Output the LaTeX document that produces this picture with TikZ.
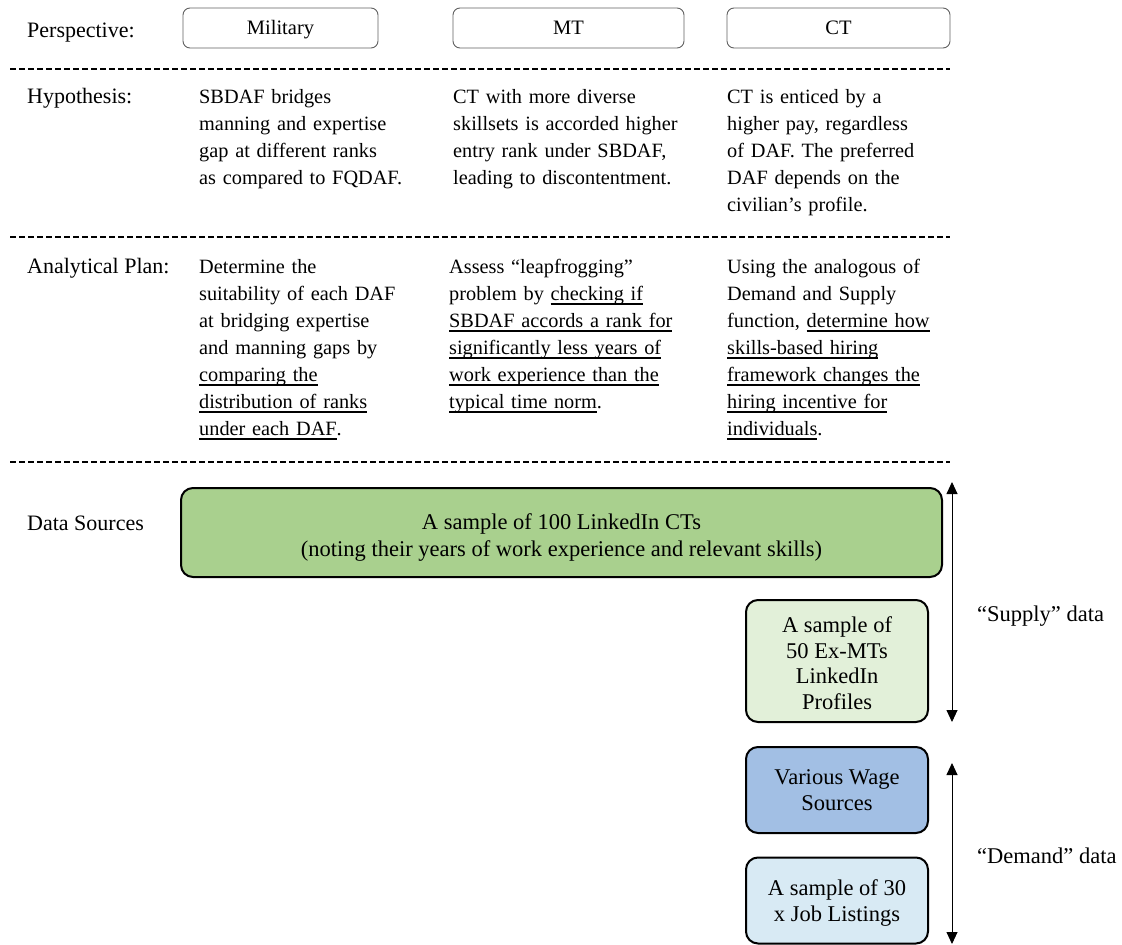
\documentclass[tikz,border=0pt]{standalone}
\usepackage{fontspec}
\setmainfont{Liberation Serif}
\usetikzlibrary{arrows.meta}
\newcommand{\myul}[1]{\leavevmode\setbox0\hbox{#1}\rlap{\rule[-4.5pt]{\wd0}{1.3pt}}\box0}
\newcommand{\fl}[1]{\rule{0pt}{#1pt}}
\newcommand{\lastl}{\rule[-6pt]{0pt}{6pt}}
\definecolor{bigGreen}{HTML}{A9D08E}
\definecolor{lightGreen}{HTML}{E2F0D9}
\definecolor{midBlue}{HTML}{A2BFE4}
\definecolor{lightBlue}{HTML}{D8EAF4}
\definecolor{hdrGray}{HTML}{606060}
\tikzset{
  txt/.style={anchor=base west, inner sep=0pt, text width=#1, align=left, font=\fontsize{20.3}{27}\selectfont},
  lbl/.style={anchor=base west, inner sep=0pt, font=\fontsize{22}{27}\selectfont},
  hdrbox/.style={draw=hdrGray, line width=0.9pt, rounded corners=7pt, minimum height=40pt, inner sep=0pt, text height=13.5pt, text depth=0pt, font=\fontsize{20.5}{27}\selectfont},
  databox/.style={draw=black, line width=2pt, rounded corners=12pt, inner sep=0pt, align=center, font=\fontsize{22.5}{#1}\selectfont},
  sep/.style={line width=1.3pt, dash pattern=on 6pt off 3pt},
  dim/.style={line width=0.9pt, {Triangle[width=11pt,length=12pt]}-{Triangle[width=11pt,length=12pt]}}
}
\begin{document}
\begin{tikzpicture}[x=1pt,y=-1pt]
\useasboundingbox (0,0) rectangle (1122,945);
% header row
\node[lbl] (persp) at (27,37) {Perspective:};
\node[hdrbox, minimum width=195pt] (mil) at (280.5,28) {Military};
\node[hdrbox, minimum width=231pt] (mt) at (568.5,28) {MT};
\node[hdrbox, minimum width=223pt] (ct) at (838.5,28) {CT};
% separators
\draw[sep] (10,69) -- (950,69);
\draw[sep] (10,237) -- (950,237);
\draw[sep] (10,462) -- (950,462);
% hypothesis row
\node[lbl] (hyp) at (27,103.5) {Hypothesis:};
\node[txt=250pt] (hyp1) at (199,103) {SBDAF bridges\\manning and expertise\\gap at different ranks\\as compared to FQDAF.};
\node[txt=270pt] (hyp2) at (453,103) {CT with more diverse\\skillsets is accorded higher\\entry rank under SBDAF,\\leading to discontentment.};
\node[txt=250pt] (hyp3) at (727,103) {CT is enticed by a\\higher pay, regardless\\of DAF. The preferred\\DAF depends on the\\civilian’s profile.};
% analytical plan row
\node[lbl] (ana) at (27,273.5) {Analytical Plan:};
\node[txt=250pt] (ana1) at (199,273) {Determine the\\suitability of each DAF\\at bridging expertise\\and manning gaps by\\\myul{comparing the}\\\myul{distribution of ranks}\\\myul{under each DAF}.};
\node[txt=270pt] (ana2) at (449,273) {Assess “leapfrogging”\\problem by \myul{checking if}\\\myul{SBDAF accords a rank for}\\\myul{significantly less years of}\\\myul{work experience than the}\\\myul{typical time norm}.};
\node[txt=250pt] (ana3) at (727,273) {Using the analogous of\\Demand and Supply\\function, \myul{determine how}\\\myul{skills-based hiring}\\\myul{framework changes the}\\\myul{hiring incentive for}\\\myul{individuals}.};
% data sources
\node[lbl] (ds) at (27,530.5) {Data Sources};
\node[databox=27, fill=bigGreen, minimum width=761pt, minimum height=89pt] (big) at (561.5,532.5) {\fl{27}A sample of 100 LinkedIn CTs\\(noting their years of work experience and relevant skills)\lastl};
\node[databox=25.7, fill=lightGreen, minimum width=182pt, minimum height=122pt] (exmt) at (837,661) {\fl{26}A sample of\\50 Ex-MTs\\LinkedIn\\Profiles\lastl};
\node[databox=26, fill=midBlue, minimum width=182pt, minimum height=86pt] (wage) at (837,790) {\fl{21}Various Wage\\Sources\lastl};
\node[databox=26, fill=lightBlue, minimum width=182pt, minimum height=86pt] (job) at (837,900.5) {\fl{22}A sample of 30\\x Job Listings\lastl};
% dimension arrows
\coordinate (sTop) at (952,482);
\coordinate (sBot) at (952,722);
\coordinate (dTop) at (952,763);
\coordinate (dBot) at (952,944);
\draw[dim] (sTop) -- (sBot);
\draw[dim] (dTop) -- (dBot);
\node[lbl, font=\fontsize{22.5}{27}\selectfont] (supply) at (977,621.5) {“Supply” data};
\node[lbl, font=\fontsize{22.5}{27}\selectfont] (demand) at (977,863.5) {“Demand” data};
\end{tikzpicture}
\end{document}
